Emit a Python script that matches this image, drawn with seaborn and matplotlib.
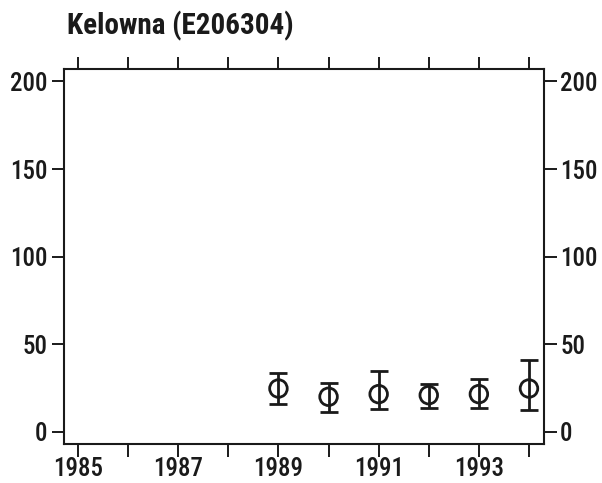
import matplotlib
matplotlib.use("Agg")
import matplotlib.pyplot as plt
import seaborn as sns
import pandas as pd
from matplotlib import font_manager

years = [1989, 1990, 1991, 1992, 1993, 1994]
means = [24.8, 20.1, 21.6, 21.0, 21.6, 24.8]
upper = [33.9, 28.0, 34.7, 27.1, 30.5, 40.9]
lower = [15.7, 11.4, 13.4, 13.6, 13.6, 12.3]
title = "Kelowna (E206304)"
xticks = list(range(1985, 1995))
xlabels = [str(y) if y % 2 == 1 else "" for y in xticks]
yticks = [0, 50, 100, 150, 200]

sns.set_style("white")
names = {f.name for f in font_manager.fontManager.ttflist}
fam = "DejaVu Sans"
for cand in ["Liberation Sans Narrow", "Roboto Condensed", "Archivo Narrow", "Barlow Condensed"]:
    if cand in names:
        fam = cand
        break
plt.rcParams["font.family"] = [fam, "DejaVu Sans"]

df = pd.DataFrame({"year": years, "mean": means, "upper": upper, "lower": lower})

fig = plt.figure(figsize=(6.02, 4.83), dpi=100)
ax = fig.add_axes([64/602, 1-444/483, (543.5-64)/602, (444-69)/483])

ax.errorbar(df["year"], df["mean"],
            yerr=[df["mean"] - df["lower"], df["upper"] - df["mean"]],
            fmt="none", ecolor="#1a1a1a", elinewidth=2.0, capsize=6.5, capthick=2.0, zorder=2)
sns.scatterplot(data=df, x="year", y="mean", ax=ax, marker="o", s=160,
                facecolor="none", edgecolor="#1a1a1a", linewidth=2.0, zorder=3, legend=False)

ax.set_xlim(1984.72, 1994.29)
ax.set_ylim(-6.85, 207.1)
ax.set_xticks(xticks)
ax.set_xticklabels(xlabels)
ax.set_yticks(yticks)
ax.set_xlabel("")
ax.set_ylabel("")
ax.tick_params(axis="both", direction="out", length=9, width=1.4, color="#1a1a1a",
               labelsize=18, labelcolor="#1a1a1a",
               top=True, right=True, labelright=True, left=True, bottom=True)
ax.tick_params(axis="x", pad=0.5)
ax.tick_params(axis="y", pad=3)
for lab in ax.get_xticklabels():
    lab.set_fontweight("medium")
for t in ax.yaxis.get_major_ticks():
    t.label1.set_fontweight("medium")
    t.label2.set_fontweight("medium")
for s in ax.spines.values():
    s.set_visible(True)
    s.set_color("#1a1a1a")
    s.set_linewidth(1.5)

fig.text(67/602, 1-26/483, title, fontsize=21, fontweight="heavy", color="#1a1a1a",
         ha="left", va="center")

fig.savefig("out.png", dpi=100)
